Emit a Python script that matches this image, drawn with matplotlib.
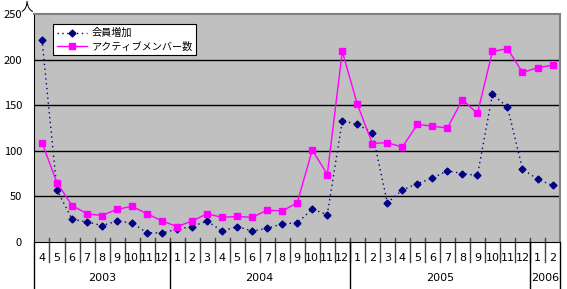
import numpy as np
from matplotlib import pyplot as plt
from matplotlib import transforms

plt.rcParams['font.family'] = ['Noto Sans CJK JP', 'DejaVu Sans']

# months 2003-4 .. 2006-2
months = [4, 5, 6, 7, 8, 9, 10, 11, 12,
          1, 2, 3, 4, 5, 6, 7, 8, 9, 10, 11, 12,
          1, 2, 3, 4, 5, 6, 7, 8, 9, 10, 11, 12,
          1, 2]
years = ['2003', '2004', '2005', '2006']
yearCounts = [9, 12, 12, 2]

newMembers = [222, 57, 25, 22, 18, 23, 21, 10, 10,
              14, 17, 23, 12, 17, 12, 15, 20, 21, 36, 30, 133,
              129, 120, 43, 57, 64, 70, 78, 75, 73, 162, 148, 80,
              69, 62]
activeMembers = [109, 65, 40, 31, 29, 36, 39, 31, 23,
                 17, 23, 31, 27, 28, 27, 35, 34, 43, 101, 74, 209,
                 151, 108, 109, 104, 129, 127, 125, 156, 141, 209, 212, 186,
                 191, 194]

fig = plt.figure(figsize=(5.67, 2.89), dpi=100)
ax = fig.add_axes([0.0608, 0.1626, 0.9269, 0.789])
ax.set_facecolor('#C0C0C0')

x = np.arange(len(months))
ax.plot(x, newMembers, color='#000080', linestyle=(0, (1, 2.5)), linewidth=1,
        marker='D', markersize=3.5, label='会員増加')
ax.plot(x, activeMembers, color='#FF00FF', linestyle='-', linewidth=1,
        marker='s', markersize=4, label='アクティブメンバー数')

ax.set_xlim(-0.5, len(months) - 0.5)
ax.set_ylim(0, 250)
ax.set_yticks(range(0, 251, 50))
ax.tick_params(axis='y', length=0, pad=9, labelsize=8)
for v in range(50, 250, 50):
    ax.axhline(v, color='black', linewidth=1, zorder=0.5)

for s in ['top', 'right']:
    ax.spines[s].set_color('#808080')
    ax.spines[s].set_linewidth(1.5)
ax.spines['left'].set_color('black')
ax.spines['bottom'].set_color('black')

# category axis drawn by hand: months, separators, years
ax.set_xticks([])
trans = transforms.blended_transform_factory(ax.transData, ax.transAxes)
for i, m in enumerate(months):
    ax.text(i, -0.068, str(m), transform=trans, ha='center', va='center',
            fontsize=8, family='DejaVu Sans')
for i in range(len(months) - 1):
    ax.plot([i + 0.5, i + 0.5], [0.018, -0.088], transform=trans,
            color='#404040', linewidth=1, clip_on=False)

start = 0
bounds = [-0.5]
for yr, n in zip(years, yearCounts):
    ax.text(start + (n - 1) / 2, -0.158, yr, transform=trans, ha='center',
            va='center', fontsize=8, family='DejaVu Sans')
    start += n
    bounds.append(start - 0.5)
for b in bounds:
    ax.plot([b, b], [0, -0.21], transform=trans, color='black',
            linewidth=1, clip_on=False)

ax.text(0.048, 0.975, '人', transform=fig.transFigure, fontsize=9,
        ha='center', va='center', clip_on=False, zorder=10)

leg = ax.legend(loc='upper left', bbox_to_anchor=(0.036, 0.955),
                borderaxespad=0, fancybox=False, framealpha=1,
                edgecolor='black', fontsize=7.3, handlelength=3.0,
                borderpad=0.35, labelspacing=0.35, handletextpad=0.4)
leg.get_frame().set_linewidth(0.8)

fig.savefig('out.png', dpi=100)
